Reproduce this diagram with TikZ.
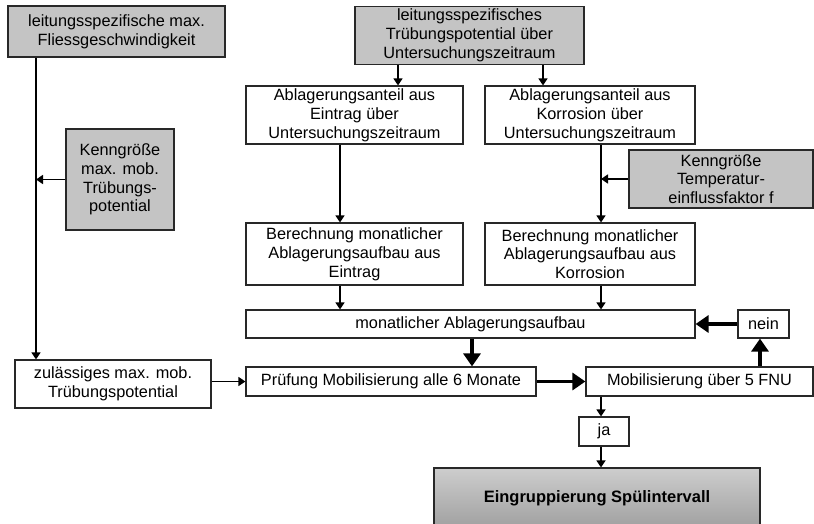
\documentclass[tikz,border=0pt]{standalone}
\usepackage{fontspec}
\setmainfont{Liberation Sans}
\usetikzlibrary{arrows.meta}
\definecolor{boxgray}{RGB}{196,196,196}
\definecolor{edgegray}{RGB}{40,40,40}
\definecolor{shadetop}{RGB}{205,205,205}
\definecolor{shadebot}{RGB}{160,160,160}
\begin{document}
\begin{tikzpicture}[x=1pt,y=-1pt,
  box/.style={draw=edgegray, line width=1.2pt, inner sep=0pt, align=center,
    font=\fontsize{16.3}{18.8}\selectfont, text=black},
  graybox/.style={box, fill=boxgray},
  thin/.style={line width=1.6pt, -{Triangle[width=9pt,length=7pt]}},
  thick/.style={line width=3.8pt, -{Triangle[width=17pt,length=13pt]}}]
\useasboundingbox (0,0) rectangle (814,523);
% nodes
\node[graybox, minimum width=217pt, minimum height=51pt] (b1) at (116.5,31.5) {leitungsspezifische max.\\Fliessgeschwindigkeit};
\node[graybox, minimum width=229pt, minimum height=58pt] (b2) at (469.5,35.5) {leitungsspezifisches\\Trübungspotential über\\Untersuchungszeitraum};
\node[box, minimum width=217pt, minimum height=58pt] (b3) at (354.5,115) {Ablagerungsanteil aus\\Eintrag über\\Untersuchungszeitraum};
\node[box, minimum width=210pt, minimum height=58pt] (b4) at (590,115) {Ablagerungsanteil aus\\Korrosion über\\Untersuchungszeitraum};
\node[graybox, minimum width=108pt, minimum height=101pt] (b5) at (120,179.5) {Kenngröße\\max. mob.\\Trübungs-\\potential};
\node[graybox, minimum width=184pt, minimum height=58pt] (b6) at (721,179) {Kenngröße\\Temperatur-\\einflussfaktor f};
\node[box, minimum width=217pt, minimum height=62pt] (b7) at (354.5,254) {Berechnung monatlicher\\Ablagerungsaufbau aus\\Eintrag};
\node[box, minimum width=210pt, minimum height=62pt] (b8) at (590,254) {Berechnung monatlicher\\Ablagerungsaufbau aus\\Korrosion};
\node[box, minimum width=449pt, minimum height=28pt] (b9) at (470.5,324) {monatlicher Ablagerungsaufbau};
\node[box, minimum width=51pt, minimum height=28pt] (nein) at (763.5,324) {nein};
\node[box, minimum width=196pt, minimum height=48pt] (b11) at (113,384) {zulässiges max. mob.\\Trübungspotential};
\node[box, minimum width=290pt, minimum height=29pt] (b12) at (391,381.5) {Prüfung Mobilisierung alle 6 Monate};
\node[box, minimum width=227pt, minimum height=29pt] (b13) at (699.5,381.5) {Mobilisierung über 5 FNU};
\node[box, minimum width=50pt, minimum height=29pt] (ja) at (604,431.5) {ja};
\node[box, top color=shadetop, bottom color=shadebot, minimum width=326pt, minimum height=60pt, font=\fontsize{16.5}{19}\selectfont\bfseries] (b15) at (597,498) {Eingruppierung Spülintervall};
% helper coordinates
\coordinate (x36) at (36,0);
\coordinate (x398) at (398,0);
\coordinate (x543) at (543,0);
\coordinate (x340) at (340,0);
\coordinate (x601) at (601,0);
\coordinate (x472) at (472,0);
\coordinate (x760) at (760,0);
% connectors
\draw[thin] (b1.south -| x36) -- (b11.north -| x36);
\draw[thin] (b5.west) -- (b5.west -| x36);
\draw[thin] (b2.south -| x398) -- (b3.north -| x398);
\draw[thin] (b2.south -| x543) -- (b4.north -| x543);
\draw[thin] (b3.south -| x340) -- (b7.north -| x340);
\draw[thin] (b4.south -| x601) -- (b8.north -| x601);
\draw[thin] (b6.west) -- (b6.west -| x601);
\draw[thin] (b7.south -| x340) -- (b9.north -| x340);
\draw[thin] (b8.south -| x601) -- (b9.north -| x601);
\draw[thick] (b9.south -| x472) -- (b12.north -| x472);
\draw[thin] (b11.east |- b12.west) -- (b12.west);
\draw[thick] (b12.east) -- (b13.west);
\draw[thick] (b13.north -| x760) -- (nein.south -| x760);
\draw[thick] (nein.west) -- (b9.east);
\draw[thin] (b13.south -| x601) -- (ja.north -| x601);
\draw[thin] (ja.south -| x601) -- (b15.north -| x601);
\end{tikzpicture}
\end{document}
